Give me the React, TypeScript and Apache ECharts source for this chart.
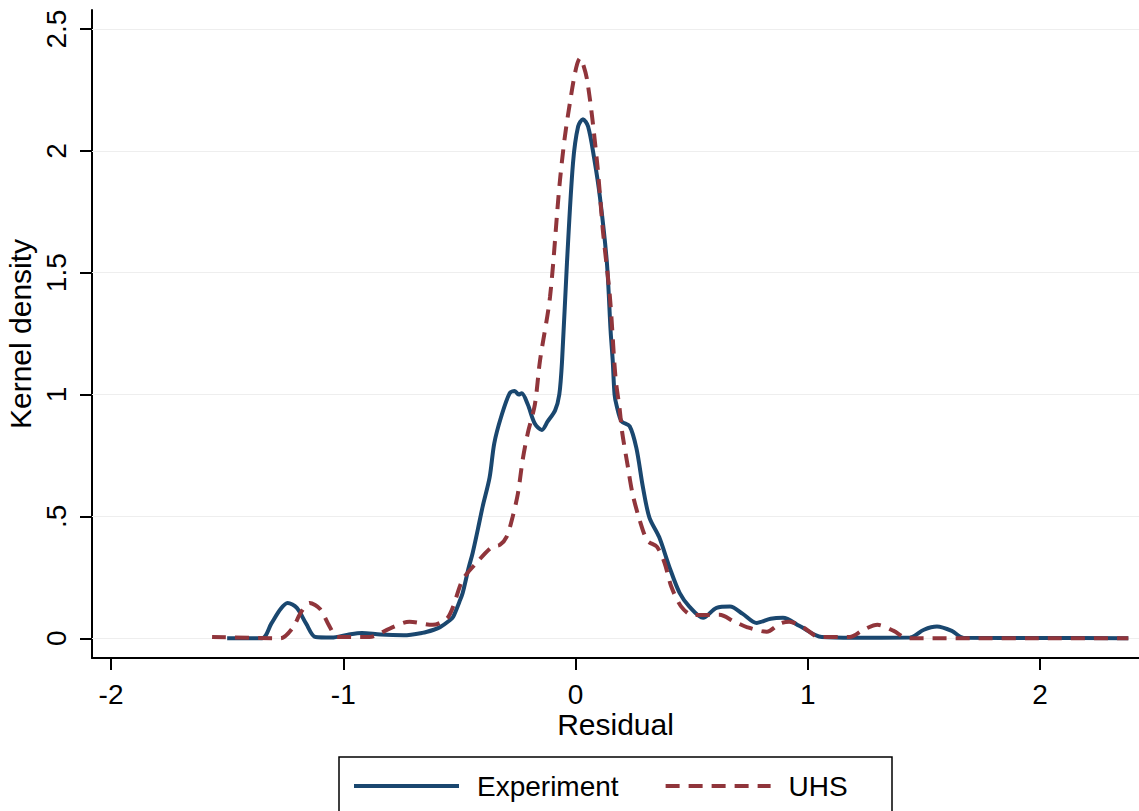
import React, { useEffect, useRef } from "react";
import * as echarts from "echarts";

const xTicks = [-2, -1, 0, 1, 2];
const yTicks = [0, 0.5, 1, 1.5, 2, 2.5];

const expX = [-1.5, -1.35, -1.31, -1.27, -1.24, -1.2, -1.16, -1.12, -1.05, -0.98, -0.92, -0.84, -0.74, -0.66, -0.61, -0.584, -0.54, -0.527, -0.5, -0.486, -0.46, -0.443, -0.42, -0.4, -0.37, -0.35, -0.32, -0.284, -0.262, -0.245, -0.232, -0.206, -0.175, -0.145, -0.12, -0.088, -0.07, -0.058, -0.037, -0.011, 0.011, 0.032, 0.054, 0.08, 0.105, 0.135, 0.151, 0.16, 0.168, 0.178, 0.198, 0.233, 0.262, 0.29, 0.318, 0.36, 0.405, 0.448, 0.49, 0.549, 0.607, 0.665, 0.72, 0.78, 0.84, 0.893, 0.965, 1.06, 1.2, 1.44, 1.5, 1.556, 1.62, 1.67, 2.0, 2.38];
const expY = [0, 0, 0.06, 0.12, 0.145, 0.125, 0.06, 0.005, 0.003, 0.015, 0.022, 0.015, 0.012, 0.022, 0.035, 0.045, 0.075, 0.088, 0.15, 0.186, 0.29, 0.35, 0.45, 0.54, 0.66, 0.8, 0.91, 1.005, 1.015, 1.0, 1.005, 0.96, 0.88, 0.855, 0.89, 0.935, 1.0, 1.14, 1.54, 1.95, 2.1, 2.13, 2.1, 1.97, 1.81, 1.54, 1.26, 1.14, 1.0, 0.95, 0.89, 0.87, 0.78, 0.62, 0.495, 0.415, 0.29, 0.186, 0.13, 0.084, 0.125, 0.13, 0.1, 0.063, 0.08, 0.084, 0.05, 0.005, 0.002, 0.003, 0.035, 0.048, 0.03, 0.002, 0.001, 0];

const uhsX = [-1.565, -1.27, -1.22, -1.18, -1.145, -1.1, -1.06, -1.025, -0.887, -0.8, -0.715, -0.615, -0.584, -0.55, -0.527, -0.486, -0.426, -0.36, -0.326, -0.297, -0.271, -0.248, -0.228, -0.206, -0.175, -0.153, -0.11, -0.067, -0.032, 0.02, 0.05, 0.093, 0.118, 0.148, 0.172, 0.19, 0.2, 0.225, 0.245, 0.276, 0.31, 0.35, 0.383, 0.413, 0.455, 0.504, 0.55, 0.62, 0.68, 0.74, 0.823, 0.88, 0.92, 0.98, 1.05, 1.18, 1.24, 1.3, 1.37, 1.43, 2.38];
const uhsY = [0.005, 0, 0.04, 0.11, 0.145, 0.12, 0.05, 0.005, 0.005, 0.04, 0.068, 0.055, 0.063, 0.085, 0.13, 0.24, 0.31, 0.375, 0.383, 0.416, 0.498, 0.595, 0.73, 0.84, 0.96, 1.14, 1.4, 1.88, 2.15, 2.38, 2.29, 1.95, 1.67, 1.4, 1.07, 0.94, 0.85, 0.705, 0.595, 0.485, 0.4, 0.376, 0.31, 0.21, 0.13, 0.095, 0.095, 0.096, 0.07, 0.045, 0.027, 0.06, 0.068, 0.045, 0.005, 0.005, 0.035, 0.055, 0.03, 0, 0];

const NAVY = "#1a476f";
const MAROON = "#90353b";
const FONT = "'Liberation Sans', Arial, sans-serif";

export default function App() {
  const ref = useRef<HTMLDivElement>(null);
  useEffect(() => {
    document.body.style.margin = "0";
    const chart = echarts.init(ref.current!, null, { renderer: "svg" });
    const expData = expX.map((x, i) => [x, expY[i]]);
    const uhsData = uhsX.map((x, i) => [x, uhsY[i]]);
    chart.setOption({
      animation: false,
      backgroundColor: "#fff",
      textStyle: { fontFamily: FONT },
      grid: { left: 92, top: 10, right: 0, bottom: 153, containLabel: false, outerBoundsMode: "none" },
      xAxis: {
        type: "value",
        min: -2.082,
        max: 2.426,
        name: "Residual",
        nameLocation: "middle",
        nameGap: 51,
        nameMoveOverlap: false,
        nameTextStyle: { fontSize: 30, lineHeight: 30, color: "#000", fontFamily: FONT, verticalAlign: "top" },
        axisLine: { onZero: false, lineStyle: { color: "#000", width: 2 } },
        axisTick: { show: true, inside: false, length: 12, customValues: xTicks, lineStyle: { color: "#000", width: 2 } },
        axisLabel: { customValues: xTicks, fontSize: 28, lineHeight: 24, color: "#000", margin: 24, fontFamily: FONT },
        splitLine: { show: false },
      },
      yAxis: {
        type: "value",
        min: -0.081,
        max: 2.578,
        name: "Kernel density",
        nameLocation: "middle",
        nameGap: 57,
        nameMoveOverlap: false,
        nameTextStyle: { fontSize: 30, color: "#000", fontFamily: FONT },
        axisLine: { show: true, onZero: false, lineStyle: { color: "#000", width: 2 } },
        axisTick: { show: true, inside: false, length: 12, customValues: yTicks, lineStyle: { color: "#000", width: 2 } },
        axisLabel: {
          customValues: yTicks,
          rotate: 90,
          fontSize: 28,
          color: "#000",
          margin: 22,
          fontFamily: FONT,
          formatter: (v: number) => (v === 0.5 ? ".5" : String(v)),
        },
        splitLine: { show: false },
      },
      legend: {
        left: 347,
        top: 767,
        itemWidth: 105,
        itemHeight: 14,
        itemGap: 45,
        itemStyle: { opacity: 0 },
        lineStyle: { width: 4 },
        textStyle: { fontSize: 28, color: "#000", fontFamily: FONT, padding: [0, 0, 0, 13] },
        data: ["Experiment", "UHS"],
      },
      graphic: [
        {
          type: "rect",
          shape: { x: 339, y: 757, width: 553, height: 80 },
          style: { fill: "none", stroke: "#000", lineWidth: 1.5 },
          silent: true,
        },
      ],
      series: [
        {
          name: "Experiment",
          type: "line",
          data: expData,
          showSymbol: false,
          symbol: "none",
          smooth: 0.3,
          lineStyle: { color: NAVY, width: 4 },
          itemStyle: { color: NAVY },
          z: 2,
          markLine: {
            silent: true,
            symbol: ["none", "none"],
            label: { show: false },
            lineStyle: { color: "#eeeeee", width: 1, type: "solid" },
            data: yTicks.map((v) => ({ yAxis: v })),
            z: 1,
          },
        },
        {
          name: "UHS",
          type: "line",
          data: uhsData,
          showSymbol: false,
          symbol: "none",
          smooth: 0.3,
          lineStyle: { color: MAROON, width: 4, type: [14, 9] },
          itemStyle: { color: MAROON },
          z: 3,
        },
      ],
    });
    return () => chart.dispose();
  }, []);
  return <div ref={ref} style={{ width: 1139, height: 811 }} />;
}
